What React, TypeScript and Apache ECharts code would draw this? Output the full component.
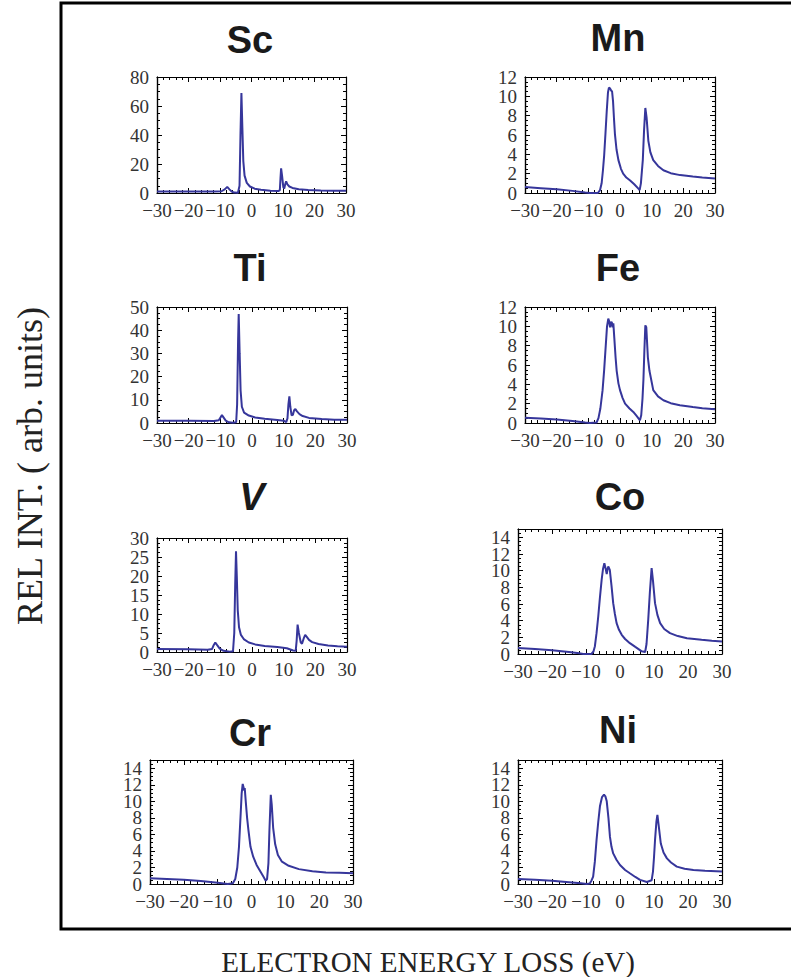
import React, { useEffect, useRef } from "react";
import * as echarts from "echarts";

// ---------- data ----------
const elements = ["Sc", "Ti", "V", "Cr", "Mn", "Fe", "Co", "Ni"];
const yMaxes = [80, 50, 30, 15, 12, 12, 15, 15];
const yIntervals = [20, 10, 5, 2, 2, 2, 2, 2];
const xMin = -30;
const xMax = 30;
const xInterval = 10;

const scData = [
  [-30, 1], [-20, 1], [-12, 1], [-9.5, 1.2], [-8.5, 2.5], [-7.7, 4.2], [-7, 2.5], [-6.3, 1], [-5.5, 0.3],
  [-4.3, 0.2], [-3.8, 5], [-3.5, 40], [-3.2, 69], [-2.9, 45], [-2.6, 22], [-2.2, 12], [-1.5, 7], [-0.5, 4.5],
  [1, 3], [3, 2.2], [6, 1.6], [8.5, 1.3], [9, 2], [9.2, 10], [9.4, 17], [9.7, 12], [10.1, 4], [10.4, 3],
  [10.7, 6], [11, 8], [11.4, 6], [12, 4.5], [13, 3.5], [15, 2.6], [18, 2.1], [22, 1.8], [26, 1.6], [30, 1.5],
];
const tiData = [
  [-30, 1], [-20, 1], [-12, 0.9], [-10.5, 1.2], [-10, 2.3], [-9.5, 3.4], [-9, 2.4], [-8.3, 1], [-7.3, 0.3],
  [-6, 0.1], [-5, 0.3], [-4.7, 8], [-4.4, 35], [-4.2, 47], [-3.9, 30], [-3.6, 14], [-3.2, 7], [-2.5, 4.5],
  [-1, 3.2], [1, 2.4], [4, 1.8], [8, 1.3], [10, 1], [10.8, 0.4], [11.2, 2], [11.5, 8], [11.8, 11.5],
  [12.1, 7], [12.5, 3.3], [12.9, 3.5], [13.3, 5.5], [13.7, 6], [14.2, 5], [15, 3.8], [16, 3], [18, 2.2],
  [22, 1.7], [26, 1.45], [30, 1.35],
];
const vData = [
  [-30, 0.8], [-20, 0.7], [-14, 0.6], [-12.6, 0.8], [-12.1, 1.8], [-11.6, 2.5], [-11, 1.8], [-10.2, 0.9],
  [-9, 0.3], [-7, 0.1], [-6, 0.2], [-5.6, 5], [-5.3, 18], [-5.05, 26.5], [-4.8, 20], [-4.5, 11], [-4.1, 6.5],
  [-3.5, 4.5], [-2.5, 3.3], [-1, 2.5], [1, 2], [4, 1.6], [8, 1.3], [11, 1], [13, 0.4], [13.8, 0.3],
  [14.1, 3], [14.4, 7.2], [14.8, 5], [15.4, 2.5], [15.8, 2.2], [16.3, 3.5], [16.8, 4.5], [17.3, 4],
  [18, 3.2], [19, 2.6], [21, 2.1], [24, 1.7], [27, 1.5], [30, 1.4],
];
const crData = [
  [-30, 0.7], [-25, 0.6], [-20, 0.5], [-15, 0.35], [-10, 0.15], [-7, 0], [-5.5, 0.1], [-4.8, 0.6],
  [-4.2, 2], [-3.7, 4.5], [-3.2, 8.5], [-2.9, 11], [-2.6, 12.1], [-2.3, 11.6], [-2.15, 11.3], [-2.0, 11.6],
  [-1.7, 10], [-1.3, 8], [-0.9, 6.5], [-0.3, 4.5], [0.5, 3.3], [1.5, 2.3], [2.5, 1.6], [3.5, 0.9],
  [4.2, 0.4], [4.6, 0.6], [5.0, 2.5], [5.3, 6.5], [5.7, 10.8], [6.0, 9.5], [6.4, 6.8], [7, 4.8],
  [7.8, 3.5], [9, 2.7], [11, 2.2], [14, 1.8], [18, 1.55], [22, 1.4], [26, 1.35], [30, 1.3],
];
const mnData = [
  [-30, 0.62], [-25, 0.5], [-20, 0.38], [-15, 0.22], [-11, 0.05], [-9.5, 0], [-7, 0], [-6.3, 0.3],
  [-5.8, 1], [-5.4, 2.3], [-5, 3.9], [-4.6, 6.1], [-4.2, 8.4], [-3.8, 10.4], [-3.5, 10.9], [-3.1, 10.8],
  [-2.8, 10.6], [-2.5, 10.5], [-2.2, 9.5], [-1.9, 7.7], [-1.6, 6.1], [-1.1, 4.5], [-0.5, 3.4], [0.3, 2.5],
  [1, 2.0], [2, 1.6], [3.2, 1.3], [4.5, 0.9], [5.8, 0.45], [6.2, 0.3], [6.6, 1], [7.2, 3.4], [7.6, 6.5],
  [8, 8.8], [8.4, 7.8], [8.95, 5.4], [9.6, 4.2], [10.5, 3.4], [12, 2.8], [13.7, 2.35], [16, 2.05],
  [19, 1.85], [23, 1.7], [26, 1.6], [30, 1.5],
];
const feData = [
  [-30, 0.55], [-25, 0.47], [-20, 0.35], [-15, 0.2], [-11, 0.05], [-9.5, 0], [-7.4, 0.05], [-6.8, 0.5],
  [-6.2, 1.5], [-5.5, 3.4], [-5, 5.5], [-4.5, 8], [-4.1, 10], [-3.7, 10.8], [-3.4, 10.5], [-3.16, 9.9],
  [-2.85, 10.4], [-2.6, 10.45], [-2.35, 9.9], [-2.1, 10.3], [-1.8, 8.8], [-1.4, 6.8], [-1.05, 5.4],
  [-0.5, 4.1], [0, 3.4], [0.8, 2.6], [1.6, 2.0], [3, 1.5], [4.2, 1.14], [5.3, 0.7], [6.3, 0.28],
  [6.7, 0.8], [7.1, 2.5], [7.4, 4.5], [7.7, 7.5], [8.0, 10.1], [8.3, 9.9], [8.8, 6.8], [9.3, 5.4],
  [10.5, 3.4], [12, 2.75], [13.7, 2.35], [16, 2.05], [18.9, 1.83], [23, 1.65], [26, 1.52], [30, 1.41],
];
const coData = [
  [-30, 0.72], [-25, 0.6], [-20, 0.45], [-15, 0.25], [-12, 0.08], [-10.8, 0], [-8.4, 0], [-7.8, 0.3],
  [-7.4, 0.9], [-6.9, 2.5], [-6.4, 4.5], [-5.9, 6.8], [-5.4, 8.9], [-5, 10.2], [-4.6, 10.9], [-4.2, 10.2],
  [-3.9, 9.6], [-3.65, 10.2], [-3.45, 10.5], [-3.0, 10.1], [-2.5, 8.2], [-2.0, 6.1], [-1.5, 4.8],
  [-1.0, 3.7], [-0.3, 2.9], [0.5, 2.3], [1.5, 1.8], [2.9, 1.3], [4.5, 0.85], [6.4, 0.32], [7.4, 0.24],
  [7.8, 1.2], [8.3, 4.1], [8.8, 7.5], [9.3, 10.3], [9.7, 8.8], [10.3, 6.1], [11, 4.7], [11.8, 3.7],
  [13, 3], [14.7, 2.5], [17, 2.15], [19.7, 1.9], [24, 1.7], [27, 1.58], [30, 1.5],
];
const niData = [
  [-30, 0.6], [-25, 0.5], [-20, 0.38], [-15, 0.22], [-11.5, 0.08], [-9.8, 0], [-8.9, 0.05], [-8.4, 0.4],
  [-7.9, 0.9], [-7.4, 2.7], [-6.9, 5.3], [-6.4, 7.5], [-5.9, 9.4], [-5.3, 10.5], [-4.7, 10.8], [-4.3, 10.6],
  [-3.9, 10.0], [-3.4, 8], [-2.95, 5.7], [-2.5, 4.5], [-2.0, 3.7], [-1, 2.9], [0, 2.3], [1.5, 1.7],
  [2.9, 1.3], [4.5, 0.85], [5.9, 0.5], [7.9, 0.25], [9.3, 0.45], [9.7, 1.5], [10.0, 3.2], [10.3, 5.3],
  [10.7, 7.5], [11.0, 8.35], [11.4, 7], [12.0, 4.9], [12.8, 3.8], [13.8, 3.1], [15, 2.6], [16.7, 2.1],
  [19, 1.85], [21.6, 1.7], [25, 1.6], [30, 1.5],
];
const seriesData = [scData, tiData, vData, crData, mnData, feData, coData, niData];

const xAxisTitle = "ELECTRON ENERGY LOSS (eV)";
const yAxisTitle = "REL INT. ( arb. units)";

// ---------- layout ----------
const grids = [
  { left: 157, top: 77, width: 189, height: 116 },
  { left: 157, top: 307, width: 190, height: 116 },
  { left: 157, top: 538, width: 190, height: 114 },
  { left: 150, top: 760, width: 203, height: 124 },
  { left: 525, top: 77, width: 190, height: 116 },
  { left: 525, top: 307, width: 190, height: 116 },
  { left: 518, top: 529, width: 204, height: 125 },
  { left: 518, top: 760, width: 204, height: 124 },
];
const titlePos = [
  [250, 40], [250, 268], [252, 497], [250, 733],
  [618, 38], [618, 268], [620, 497], [618, 730],
];

const LINE_COLOR = "#36369b";
const SERIF = '"Liberation Serif", "Times New Roman", serif';
const SANS = '"Liberation Sans", Arial, sans-serif';
const TICK_FONT = 19;

function minus(v: number) {
  return String(v).replace("-", "\u2212");
}

function isMultiple(v: number, step: number) {
  const r = Math.abs(v / step - Math.round(v / step));
  return r < 1e-6;
}

function buildOption() {
  const xAxis: any[] = [];
  const yAxis: any[] = [];
  const series: any[] = [];
  const graphic: any[] = [];

  const lineStyle = { color: "#000", width: 1.2 };
  const tickStyle = { color: "#000", width: 1 };

  grids.forEach((g, i) => {
    const yInt = yIntervals[i];

    // x axes: bottom (labels) + top (mirror ticks)
    const xBase = {
      type: "value",
      gridIndex: i,
      min: xMin,
      max: xMax,
      interval: xInterval,
      splitLine: { show: false },
      axisLine: { show: true, onZero: false, lineStyle },
      axisTick: { show: true, inside: true, length: 5, lineStyle: tickStyle },
      minorTick: { show: true, splitNumber: 5, length: 3, lineStyle: tickStyle },
    };
    const xIndex = xAxis.length;
    xAxis.push({
      ...xBase,
      position: "bottom",
      axisLabel: {
        show: true,
        interval: 0,
        margin: 8,
        showMinLabel: true,
        showMaxLabel: true,
        hideOverlap: false,
        fontFamily: SERIF,
        fontSize: TICK_FONT,
        color: "#333",
        formatter: (v: number) => minus(v),
      },
    });
    xAxis.push({ ...xBase, position: "top", axisLabel: { show: false } });

    // y axes: label axis (half step, no ticks), left tick axis, right mirror axis
    const yIndex = yAxis.length;
    yAxis.push({
      type: "value",
      gridIndex: i,
      position: "left",
      min: 0,
      max: yMaxes[i],
      interval: yInt / 2,
      splitLine: { show: false },
      axisLine: { show: true, onZero: false, lineStyle },
      axisTick: { show: false },
      minorTick: { show: false },
      axisLabel: {
        show: true,
        margin: 8,
        showMinLabel: true,
        showMaxLabel: isMultiple(yMaxes[i], yInt),
        hideOverlap: false,
        fontFamily: SERIF,
        fontSize: TICK_FONT,
        color: "#333",
        formatter: (v: number) => (isMultiple(v, yInt) ? String(v) : ""),
      },
    });
    const yTickBase = {
      type: "value",
      gridIndex: i,
      min: 0,
      max: yMaxes[i],
      interval: yInt,
      splitLine: { show: false },
      axisLine: { show: true, onZero: false, lineStyle },
      axisTick: { show: true, inside: true, length: 5, lineStyle: tickStyle },
      minorTick: { show: true, splitNumber: 4, length: 3, lineStyle: tickStyle },
      axisLabel: { show: false },
    };
    yAxis.push({ ...yTickBase, position: "left" });
    yAxis.push({ ...yTickBase, position: "right" });

    series.push({
      type: "line",
      xAxisIndex: xIndex,
      yAxisIndex: yIndex,
      data: seriesData[i],
      showSymbol: false,
      symbol: "none",
      clip: true,
      smooth: false,
      lineStyle: { color: LINE_COLOR, width: 2 },
      z: 1,
    });

    graphic.push({
      type: "text",
      x: titlePos[i][0],
      y: titlePos[i][1],
      style: {
        text: elements[i],
        font: `${elements[i] === "V" ? "italic " : ""}bold 38px ${SANS}`,
        fill: "#1a1a1a",
        align: "center",
        verticalAlign: "middle",
        textAlign: "center",
        textVerticalAlign: "middle",
      },
    });
  });

  graphic.push({
    type: "rect",
    shape: { x: 61, y: 3, width: 800, height: 926 },
    style: { fill: "none", stroke: "#000", lineWidth: 3 },
  });
  graphic.push({
    type: "text",
    x: 428,
    y: 962,
    style: {
      text: xAxisTitle,
      font: `29px ${SERIF}`,
      fill: "#222",
      align: "center",
      verticalAlign: "middle",
      textAlign: "center",
      textVerticalAlign: "middle",
    },
  });
  graphic.push({
    type: "text",
    x: 30,
    y: 466,
    rotation: Math.PI / 2,
    style: {
      text: yAxisTitle,
      font: `36px ${SERIF}`,
      fill: "#222",
      align: "center",
      verticalAlign: "middle",
      textAlign: "center",
      textVerticalAlign: "middle",
    },
  });

  return {
    animation: false,
    backgroundColor: "#fff",
    grid: grids.map((g) => ({ ...g, containLabel: false })),
    xAxis,
    yAxis,
    series,
    graphic,
  };
}

export default function App() {
  const ref = useRef<HTMLDivElement>(null);
  useEffect(() => {
    if (!ref.current) return;
    const chart = echarts.init(ref.current, undefined, { renderer: "svg" });
    chart.setOption(buildOption() as any);
    return () => chart.dispose();
  }, []);
  return (
    <div
      ref={ref}
      style={{ position: "absolute", left: 0, top: 0, width: 791, height: 977, background: "#fff" }}
    />
  );
}
